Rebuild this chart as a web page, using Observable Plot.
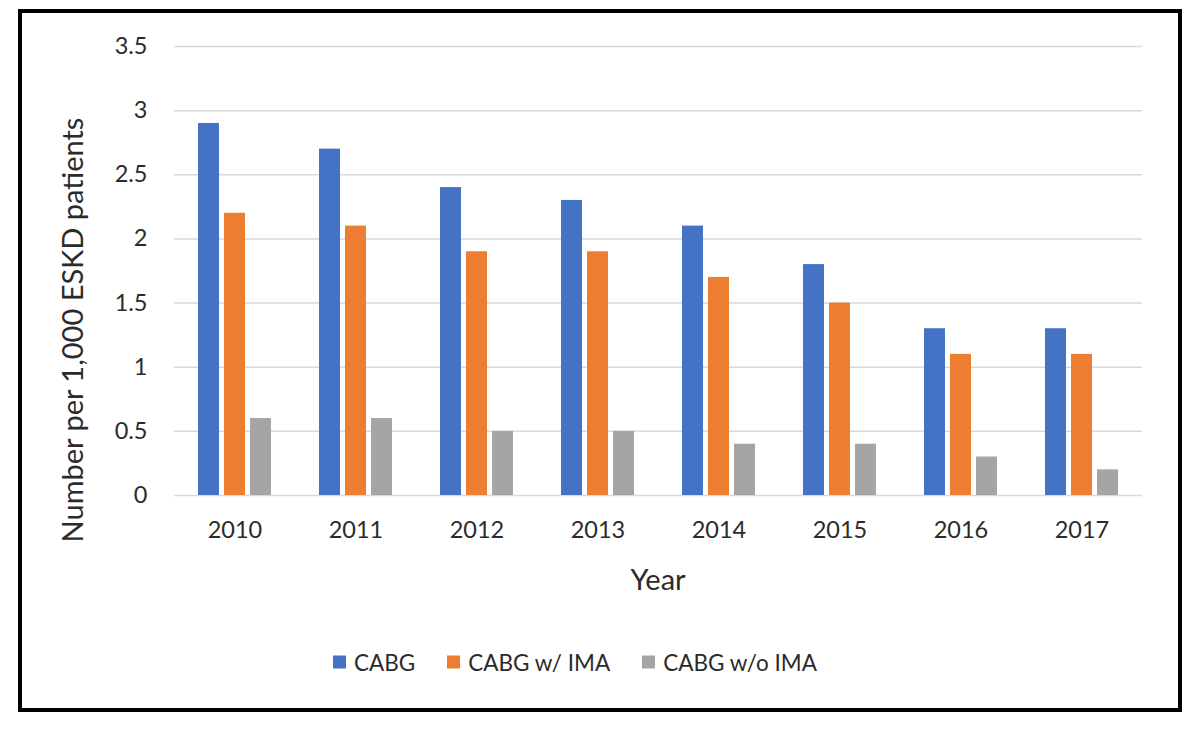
<!DOCTYPE html>
<html>
<head>
<meta charset="utf-8">
<script src="https://cdn.jsdelivr.net/npm/d3@7"></script>
<script src="https://cdn.jsdelivr.net/npm/@observablehq/plot@0.6"></script>
<style>
  html, body { margin: 0; padding: 0; background: #fff; }
  #wrap { position: relative; width: 1200px; height: 736px; font-family: Lato, "Open Sans", sans-serif; color: #2b2b2b; }
  #frame { position: absolute; left: 18px; top: 9px; width: 1156px; height: 695px; border: 4px solid #000; box-sizing: content-box; }
  #chart { position: absolute; left: 0; top: 0; }
  #ylabel { position: absolute; left: 71px; top: 330px; transform: translate(-50%, -50%) rotate(-90deg); white-space: nowrap; font-size: 29px; }
  #xlabel { position: absolute; left: 658px; top: 578px; transform: translate(-50%, -50%); font-size: 29px; }
  #legend { position: absolute; left: 333px; top: 662px; transform: translateY(-50%); display: flex; gap: 32px; font-size: 22.5px; }
  .item { display: flex; align-items: center; gap: 8px; }
  .sw { width: 13px; height: 13px; display: inline-block; }
</style>
</head>
<body>
<div id="wrap">
  <div id="frame"></div>
  <div id="chart"></div>
  <div id="ylabel">Number per 1,000 ESKD patients</div>
  <div id="xlabel">Year</div>
  <div id="legend"></div>
</div>
<script>
const years = ["2010", "2011", "2012", "2013", "2014", "2015", "2016", "2017"];
const series = ["CABG", "CABG w/ IMA", "CABG w/o IMA"];
const cabg = [2.9, 2.7, 2.4, 2.3, 2.1, 1.8, 1.3, 1.3];
const cabgWithIma = [2.2, 2.1, 1.9, 1.9, 1.7, 1.5, 1.1, 1.1];
const cabgWithoutIma = [0.6, 0.6, 0.5, 0.5, 0.4, 0.4, 0.3, 0.2];
const yTicks = [0, 0.5, 1, 1.5, 2, 2.5, 3, 3.5];
const colors = ["#4472C4", "#ED7D31", "#A5A5A5"];

const seriesValues = [cabg, cabgWithIma, cabgWithoutIma];
const data = [];
years.forEach((yr, i) => {
  series.forEach((s, j) => data.push({year: yr, series: s, value: seriesValues[j][i]}));
});

const chart = Plot.plot({
  width: 1200,
  height: 600,
  marginTop: 46,
  marginBottom: 105,
  marginLeft: 172,
  marginRight: 56,
  style: {fontSize: "23.5px", fontFamily: "Lato, 'Open Sans', sans-serif", color: "#2b2b2b", background: "transparent"},
  fx: {domain: years, padding: 0, label: null, tickSize: 0, tickPadding: 26, axis: "bottom"},
  x: {domain: series, axis: null, paddingInner: 0.185, paddingOuter: 0.843},
  y: {domain: [0, 3.5], ticks: yTicks, tickSize: 0, tickPadding: 27, tickFormat: d3.format("~g"), label: null},
  color: {domain: series, range: colors},
  marks: [
    Plot.gridY(yTicks, {stroke: "#d9d9d9", strokeOpacity: 1, strokeWidth: 1.5}),
    Plot.barY(data, {fx: "year", x: "series", y: "value", fill: "series"})
  ]
});
document.getElementById("chart").appendChild(chart);

const legend = document.getElementById("legend");
series.forEach((s, i) => {
  const it = document.createElement("div");
  it.className = "item";
  const sw = document.createElement("span");
  sw.className = "sw";
  sw.style.background = colors[i];
  const tx = document.createElement("span");
  tx.textContent = s;
  it.appendChild(sw); it.appendChild(tx);
  legend.appendChild(it);
});
</script>
</body>
</html>
